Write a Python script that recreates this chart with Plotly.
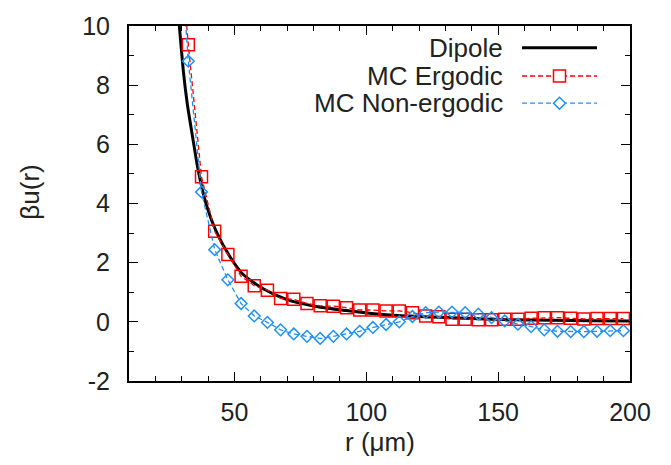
import plotly.graph_objects as go

# ---------------- data ----------------
dipole_r = [28.0, 29.1, 30.6, 32.1, 34.1, 36.2, 39.1, 43.2, 48.3, 53.3, 60.9, 69.7,
            81.0, 92.4, 102.0, 110.0, 125.0, 140.0, 155.0, 170.0, 185.0, 200.0]
dipole_u = [11.2, 10.0, 8.48, 7.37, 6.26, 5.14, 4.03, 3.03, 2.20, 1.60, 1.12, 0.76,
            0.52, 0.38, 0.28, 0.22, 0.16, 0.11, 0.07, 0.05, 0.04, 0.03]

mc_r = [27.5, 32.5, 37.5, 42.5, 47.5, 52.5, 57.5, 62.5, 67.5, 72.5, 77.5, 82.5,
        87.5, 92.5, 97.5, 102.5, 107.5, 112.5, 117.5, 122.5, 127.5, 132.5, 137.5,
        142.5, 147.5, 152.5, 157.5, 162.5, 167.5, 172.5, 177.5, 182.5, 187.5,
        192.5, 197.5]
ergodic_u = [14.6, 9.37, 4.90, 3.06, 2.28, 1.54, 1.22, 1.07, 0.79, 0.76, 0.62, 0.54,
             0.53, 0.48, 0.40, 0.40, 0.37, 0.37, 0.31, 0.20, 0.17, 0.09, 0.09,
             0.07, 0.07, 0.09, 0.09, 0.12, 0.14, 0.14, 0.12, 0.10, 0.11,
             0.11, 0.11]
nonergodic_u = [15.0, 8.81, 4.39, 2.44, 1.42, 0.62, 0.20, -0.02, -0.27, -0.41, -0.49, -0.56,
                -0.49, -0.41, -0.32, -0.19, -0.09, 0.00, 0.18, 0.31, 0.33, 0.33, 0.31,
                0.26, 0.14, 0.03, -0.08, -0.16, -0.27, -0.32, -0.33, -0.33, -0.32,
                -0.30, -0.30]

x_tickvals = [50, 100, 150, 200]
x_ticktext = ["50", "100", "150", "200"]
y_tickvals = [-2, 0, 2, 4, 6, 8, 10]
y_ticktext = ["-2", "0", "2", "4", "6", "8", "10"]

series_names = ["Dipole", "MC Ergodic", "MC Non-ergodic"]

RED = "#ff0000"
BLUE = "#1e90ff"
TXT = "#222222"
FONT = "Liberation Sans, Arial, sans-serif"

W, H = 671, 465
L, R, T, B = 129, 630, 21, 381   # plot area in pixels


def px(x):
    return (x - L) / (R - L)


def py(y):
    return (B - y) / (B - T)


fig = go.Figure()
fig.add_trace(go.Scatter(x=dipole_r, y=dipole_u, mode="lines", name=series_names[0],
                         line=dict(color="black", width=3, shape="spline", smoothing=0.6),
                         showlegend=False))
fig.add_trace(go.Scatter(x=mc_r, y=ergodic_u, mode="lines+markers", name=series_names[1],
                         line=dict(color=RED, width=1.3, dash="5px,3px"),
                         marker=dict(symbol="square-open", size=12, color=RED,
                                     line=dict(width=1.5, color=RED)),
                         showlegend=False))
fig.add_trace(go.Scatter(x=mc_r, y=nonergodic_u, mode="lines+markers", name=series_names[2],
                         line=dict(color=BLUE, width=1.3, dash="5px,3px"),
                         marker=dict(symbol="diamond-open", size=9, color=BLUE,
                                     line=dict(width=1.5, color=BLUE)),
                         showlegend=False))

axis_common = dict(showline=True, linecolor="black", linewidth=2, mirror="ticks",
                   ticks="inside", ticklen=9, tickwidth=1, tickcolor="black",
                   showgrid=False, zeroline=False,
                   tickfont=dict(family=FONT, size=25, color=TXT))

fig.update_xaxes(range=[10, 200], tickvals=x_tickvals, ticktext=x_ticktext,
                 minor=dict(ticks="inside", ticklen=5, tickwidth=1, tickcolor="black",
                            tick0=0, dtick=10, showgrid=False),
                 ticklabelstandoff=8, **axis_common)
fig.update_yaxes(range=[-2, 10], tickvals=y_tickvals, ticktext=y_ticktext,
                 minor=dict(ticks="inside", ticklen=5, tickwidth=1, tickcolor="black",
                            tick0=0, dtick=1, showgrid=False),
                 ticklabelstandoff=12, **axis_common)

# axis titles
annotations = [
    dict(text="r (μm)", x=px(379.5), y=py(443), xref="paper", yref="paper",
         showarrow=False, xanchor="center", yanchor="middle",
         font=dict(family=FONT, size=26, color=TXT)),
    dict(text="βu(r)", x=px(30), y=py(190), xref="paper", yref="paper",
         showarrow=False, xanchor="center", yanchor="middle", textangle=-90,
         font=dict(family=FONT, size=26, color=TXT)),
]

# legend (gnuplot style: text left, sample right)
rows = [43, 71.7, 99.3]
for name, yy in zip(series_names, rows):
    annotations.append(dict(text=name, x=px(505), y=py(yy), xref="paper", yref="paper",
                            showarrow=False, xanchor="right", yanchor="middle",
                            font=dict(family=FONT, size=26, color=TXT)))

shapes = []
lx0, lx1, mx = 522, 597, 559.5
shapes.append(dict(type="line", xref="paper", yref="paper",
                   x0=px(lx0), x1=px(lx1), y0=py(rows[0]), y1=py(rows[0]),
                   line=dict(color="black", width=3)))
for yy, col in [(rows[1], RED), (rows[2], BLUE)]:
    shapes.append(dict(type="line", xref="paper", yref="paper",
                       x0=px(lx0), x1=px(lx1), y0=py(yy), y1=py(yy),
                       line=dict(color=col, width=1.3, dash="5px,3px")))
# square marker sample
s = 6
shapes.append(dict(type="rect", xref="paper", yref="paper",
                   x0=px(mx - s), x1=px(mx + s), y0=py(rows[1] - s), y1=py(rows[1] + s),
                   line=dict(color=RED, width=1.5), fillcolor="white"))
# diamond marker sample
d = 6
path = "M {} {} L {} {} L {} {} L {} {} Z".format(
    px(mx - d), py(rows[2]), px(mx), py(rows[2] - d),
    px(mx + d), py(rows[2]), px(mx), py(rows[2] + d))
shapes.append(dict(type="path", xref="paper", yref="paper", path=path,
                   line=dict(color=BLUE, width=1.5), fillcolor="white"))

fig.update_layout(width=W, height=H,
                  margin=dict(l=L, r=W - R, t=T, b=H - B, pad=0),
                  paper_bgcolor="white", plot_bgcolor="white",
                  showlegend=False, annotations=annotations, shapes=shapes)

fig.write_html("out.html")
